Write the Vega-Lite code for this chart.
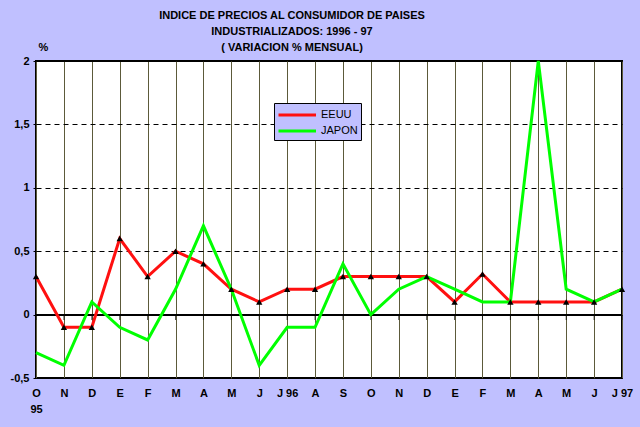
{
  "$schema": "https://vega.github.io/schema/vega-lite/v6.json",
  "width": 586,
  "height": 317,
  "autosize": "none",
  "padding": {"left": 36, "top": 61, "right": 18, "bottom": 49},
  "background": "#C0C0FF",
  "title": {
    "text": ["INDICE DE PRECIOS AL CONSUMIDOR DE PAISES", "INDUSTRIALIZADOS: 1996 - 97", "( VARIACION % MENSUAL)"],
    "font": "'Liberation Sans', sans-serif",
    "fontSize": 11,
    "fontWeight": "bold",
    "color": "black",
    "lineHeight": 16,
    "anchor": "middle",
    "frame": "group",
    "dx": -37,
    "offset": -12
  },
  "data": {
    "values": [
      {"fecha": "1995-10", "pais": "EEUU", "valor": 0.3},
      {"fecha": "1995-11", "pais": "EEUU", "valor": -0.1},
      {"fecha": "1995-12", "pais": "EEUU", "valor": -0.1},
      {"fecha": "1996-01", "pais": "EEUU", "valor": 0.6},
      {"fecha": "1996-02", "pais": "EEUU", "valor": 0.3},
      {"fecha": "1996-03", "pais": "EEUU", "valor": 0.5},
      {"fecha": "1996-04", "pais": "EEUU", "valor": 0.4},
      {"fecha": "1996-05", "pais": "EEUU", "valor": 0.2},
      {"fecha": "1996-06", "pais": "EEUU", "valor": 0.1},
      {"fecha": "1996-07", "pais": "EEUU", "valor": 0.2},
      {"fecha": "1996-08", "pais": "EEUU", "valor": 0.2},
      {"fecha": "1996-09", "pais": "EEUU", "valor": 0.3},
      {"fecha": "1996-10", "pais": "EEUU", "valor": 0.3},
      {"fecha": "1996-11", "pais": "EEUU", "valor": 0.3},
      {"fecha": "1996-12", "pais": "EEUU", "valor": 0.3},
      {"fecha": "1997-01", "pais": "EEUU", "valor": 0.1},
      {"fecha": "1997-02", "pais": "EEUU", "valor": 0.32},
      {"fecha": "1997-03", "pais": "EEUU", "valor": 0.1},
      {"fecha": "1997-04", "pais": "EEUU", "valor": 0.1},
      {"fecha": "1997-05", "pais": "EEUU", "valor": 0.1},
      {"fecha": "1997-06", "pais": "EEUU", "valor": 0.1},
      {"fecha": "1997-07", "pais": "EEUU", "valor": 0.2},
      {"fecha": "1995-10", "pais": "JAPON", "valor": -0.3},
      {"fecha": "1995-11", "pais": "JAPON", "valor": -0.4},
      {"fecha": "1995-12", "pais": "JAPON", "valor": 0.1},
      {"fecha": "1996-01", "pais": "JAPON", "valor": -0.1},
      {"fecha": "1996-02", "pais": "JAPON", "valor": -0.2},
      {"fecha": "1996-03", "pais": "JAPON", "valor": 0.2},
      {"fecha": "1996-04", "pais": "JAPON", "valor": 0.7},
      {"fecha": "1996-05", "pais": "JAPON", "valor": 0.2},
      {"fecha": "1996-06", "pais": "JAPON", "valor": -0.4},
      {"fecha": "1996-07", "pais": "JAPON", "valor": -0.1},
      {"fecha": "1996-08", "pais": "JAPON", "valor": -0.1},
      {"fecha": "1996-09", "pais": "JAPON", "valor": 0.4},
      {"fecha": "1996-10", "pais": "JAPON", "valor": 0.0},
      {"fecha": "1996-11", "pais": "JAPON", "valor": 0.2},
      {"fecha": "1996-12", "pais": "JAPON", "valor": 0.3},
      {"fecha": "1997-01", "pais": "JAPON", "valor": 0.2},
      {"fecha": "1997-02", "pais": "JAPON", "valor": 0.1},
      {"fecha": "1997-03", "pais": "JAPON", "valor": 0.1},
      {"fecha": "1997-04", "pais": "JAPON", "valor": 2.0},
      {"fecha": "1997-05", "pais": "JAPON", "valor": 0.2},
      {"fecha": "1997-06", "pais": "JAPON", "valor": 0.1},
      {"fecha": "1997-07", "pais": "JAPON", "valor": 0.2}
    ]
  },
  "encoding": {
    "x": {
      "field": "fecha",
      "type": "ordinal",
      "scale": {"type": "point", "padding": 0},
      "axis": {
        "title": null,
        "orient": "bottom",
        "domain": false,
        "ticks": false,
        "grid": true,
        "gridColor": "#5C5A3A",
        "gridWidth": 1,
        "gridOpacity": 1,
        "labelAngle": 0,
        "labelOverlap": false,
        "labelPadding": 9,
        "labelFont": "'Liberation Sans', sans-serif",
        "labelFontSize": 11,
        "labelFontWeight": "bold",
        "labelColor": "black",
        "labelLineHeight": 16,
        "labelBaseline": "top",
        "labelExpr": "datum.value == '1995-10' ? ['O', '95'] : substring('EFMAMJJASOND', toNumber(substring(datum.value, 5, 7)) - 1, toNumber(substring(datum.value, 5, 7))) + (substring(datum.value, 5, 7) == '07' ? ' ' + substring(datum.value, 2, 4) : '')"
      }
    },
    "y": {
      "field": "valor",
      "type": "quantitative",
      "scale": {"domain": [-0.5, 2], "nice": false, "zero": false},
      "axis": {
        "title": "%",
        "titleAngle": 0,
        "titleX": 7,
        "titleY": -14,
        "titleAlign": "center",
        "titleBaseline": "middle",
        "titleFont": "'Liberation Sans', sans-serif",
        "titleFontSize": 11,
        "titleFontWeight": "bold",
        "titleColor": "black",
        "values": [-0.5, 0, 0.5, 1, 1.5, 2],
        "domain": false,
        "ticks": true,
        "tickSize": 3,
        "tickColor": "black",
        "labelPadding": 4,
        "labelFont": "'Liberation Sans', sans-serif",
        "labelFontSize": 11,
        "labelFontWeight": "bold",
        "labelColor": "black",
        "labelExpr": "replace(toString(datum.value), '.', ',')",
        "grid": true,
        "gridColor": "black",
        "gridDash": [5, 4],
        "gridWidth": 1,
        "gridOpacity": 1
      }
    }
  },
  "layer": [
    {
      "mark": {"type": "rule", "color": "black", "strokeWidth": 1.2},
      "encoding": {"y": {"datum": 0}, "x": null}
    },
    {
      "mark": {"type": "tick", "orient": "vertical", "color": "black", "size": 5, "thickness": 1, "yOffset": 3},
      "transform": [{"filter": "datum.pais == 'EEUU'"}],
      "encoding": {"y": {"datum": 0}}
    },
    {
      "mark": {"type": "line", "strokeWidth": 3},
      "encoding": {
        "color": {
          "field": "pais",
          "type": "nominal",
          "scale": {"domain": ["EEUU", "JAPON"], "range": ["#FF1010", "#00FF00"]},
          "legend": {
            "title": null,
            "orient": "none",
            "legendX": 238,
            "legendY": 42,
            "fillColor": "#C0C0FF",
            "strokeColor": "black",
            "padding": 3,
            "symbolType": "M-1,0L4,0",
            "symbolSize": 225,
            "symbolStrokeWidth": 3,
            "labelFont": "'Liberation Sans', sans-serif",
            "labelFontSize": 11,
            "labelColor": "black",
            "labelOffset": 26,
            "rowPadding": 1
          }
        }
      }
    },
    {
      "mark": {"type": "point", "shape": "triangle-up", "filled": true, "color": "black", "size": 40, "opacity": 1},
      "transform": [{"filter": "datum.pais == 'EEUU'"}]
    }
  ],
  "config": {
    "view": {"fill": "white", "stroke": "black", "strokeWidth": 2}
  }
}
